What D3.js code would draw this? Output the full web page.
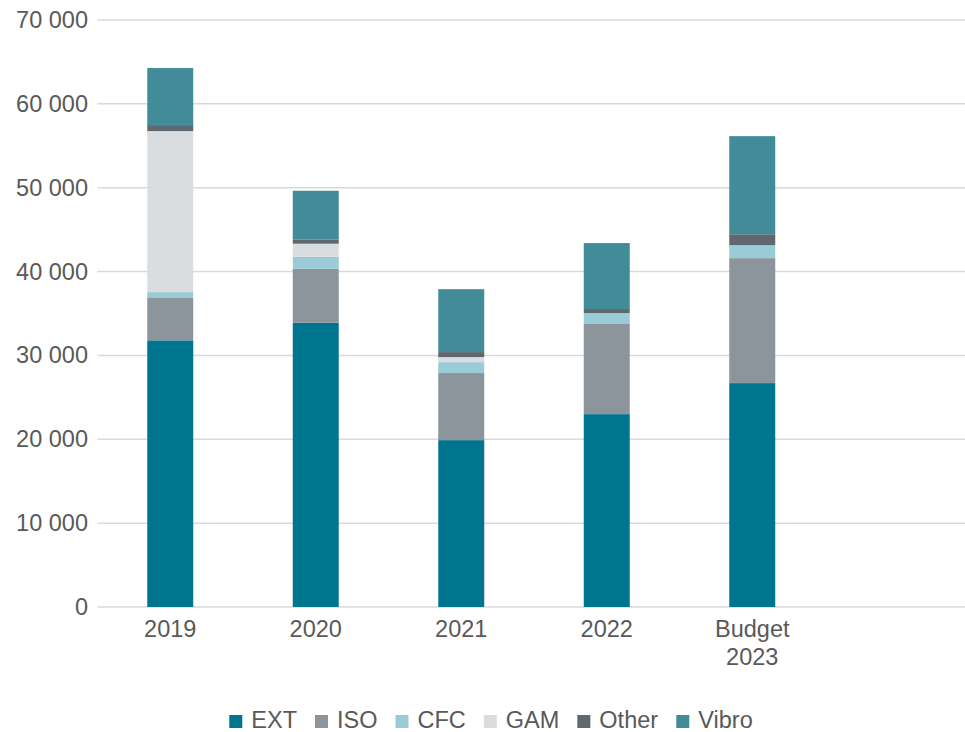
<!DOCTYPE html>
<html><head><meta charset="utf-8">
<script src="https://cdn.jsdelivr.net/npm/d3@7"></script>
<style>body{margin:0;background:#fff;} text{font-family:"Liberation Sans",Arial,sans-serif;}</style>
</head><body>
<svg id="chart" width="965" height="732"></svg>
<script>
const categories = ["2019","2020","2021","2022","Budget\n2023",""];
const seriesNames = ["EXT","ISO","CFC","GAM","Other","Vibro"];
const EXT   = [31800, 33900, 19900, 23000, 26700, null];
const ISO   = [5050, 6440, 8000, 10750, 14900, null];
const CFC   = [700, 1430, 1300, 1300, 1550, null];
const GAM   = [19200, 1550, 600, 0, 0, null];
const Other = [720, 480, 600, 480, 1300, null];
const Vibro = [6800, 5840, 7500, 7870, 11700, null];
const yTicks = [0,10000,20000,30000,40000,50000,60000,70000];
const colors = ["#00758f","#8c959c","#99ccd6","#d9dde0","#5e686e","#428b98"];

const seriesVals = [EXT, ISO, CFC, GAM, Other, Vibro];
const table = categories.map((c,i)=>{
  const row = {cat:c};
  seriesNames.forEach((s,j)=> row[s] = seriesVals[j][i] || 0);
  return row;
});

const svg = d3.select("#chart");
const x = d3.scaleBand().domain(categories).range([97.5, 970.5]).paddingInner(0.684).paddingOuter(0.342);
const y = d3.scaleLinear().domain([0,70000]).range([607,20]);

const fmt = v => d3.format(",")(v).replace(/,/g," ");
const FS = "23.5px";

// gridlines
svg.append("g").selectAll("line").data(yTicks).join("line")
  .attr("x1",97.5).attr("x2",970.5)
  .attr("y1",d=>y(d)).attr("y2",d=>y(d))
  .attr("stroke","#d9d9d9").attr("stroke-width",1.5);

// y labels
const yAxis = d3.axisLeft(y).tickValues(yTicks).tickFormat(fmt).tickSize(0).tickPadding(0);
const yg = svg.append("g").attr("transform","translate(88,0)").call(yAxis);
yg.select(".domain").remove();
yg.selectAll("text").attr("fill","#595959").style("font-size",FS).style("font-family","'Liberation Sans',Arial,sans-serif");

// stacks
const stack = d3.stack().keys(seriesNames)(table);
svg.append("g").selectAll("g").data(stack).join("g")
  .attr("fill",(d,i)=>colors[i])
  .selectAll("rect").data(d=>d.filter(p=>p.data.cat!=="")).join("rect")
  .attr("x",d=>x(d.data.cat)).attr("width",x.bandwidth())
  .attr("y",d=>y(d[1])).attr("height",d=>Math.max(0,y(d[0])-y(d[1])));

// x labels
const xg = svg.append("g");
categories.forEach(c=>{
  const lines = c.split("\n");
  const t = xg.append("text").attr("x",x(c)+x.bandwidth()/2).attr("y",637)
    .attr("text-anchor","middle").attr("fill","#595959").style("font-size",FS);
  lines.forEach((l,k)=> t.append("tspan").attr("x",x(c)+x.bandwidth()/2).attr("dy",k?28:0).text(l));
});

// legend
const lg = svg.append("g");
const items = seriesNames.map((s,i)=>({s,c:colors[i]}));
let cx = 0;
const itemG = lg.selectAll("g").data(items).join("g");
itemG.append("rect").attr("width",13).attr("height",13).attr("y",-13).attr("fill",d=>d.c);
itemG.append("text").attr("x",22).attr("y",0).attr("fill","#595959").style("font-size",FS).text(d=>d.s);
itemG.each(function(){
  const w = this.getBBox().width;
  d3.select(this).attr("transform",`translate(${cx},0)`);
  cx += w + 18;
});
const totalW = cx - 18;
lg.attr("transform",`translate(${491 - totalW/2},728)`);
</script>
</body></html>
